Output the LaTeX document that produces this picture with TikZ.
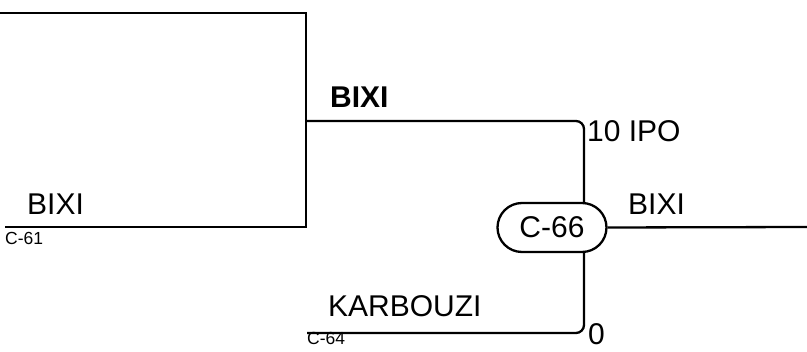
\documentclass[tikz,border=0pt]{standalone}
\usepackage{fontspec}
\setmainfont{Liberation Sans}
\usetikzlibrary{shapes.misc}
\begin{document}
\begin{tikzpicture}[x=1pt,y=-1pt,
  wire/.style={line width=2.3pt,line cap=butt,line join=miter},
  lbl/.style={anchor=base west,inner sep=0pt,font=\fontsize{30}{34}\selectfont},
  tag/.style={anchor=base west,inner sep=0pt,font=\fontsize{17.5}{20}\selectfont},
  junc/.style={rounded rectangle,draw,line width=2.3pt,minimum width=109pt,minimum height=49pt,inner sep=0pt,font=\fontsize{30}{34}\selectfont}]
\useasboundingbox (0,0) rectangle (807,352);
\coordinate (tl) at (0,13);
\coordinate (tr) at (306,13);
\coordinate (ml) at (5,227);
\coordinate (mr) at (306,227);
\coordinate (jx) at (306,121);
\coordinate (bl) at (307,333);
\coordinate (re) at (807,227);
\node[junc] (c66) at (552,227.5) {C-66};
\draw[wire] (tl) -- (tr) -- (mr) -- (ml);
\draw[wire,rounded corners=8pt] (jx) -- (584,121) -- (584,203);
\draw[wire,rounded corners=8pt] (bl) -- (584,333) -- (584,252);
\draw[wire] (c66.east) -- (re);
\node[lbl] (b1) at (27,215) {BIXI};
\node[tag] (c61) at (5,245) {C-61};
\node[lbl,font=\fontsize{30}{34}\selectfont\bfseries] (b2) at (330,108) {BIXI};
\node[lbl] (ipo) at (587,142) {10 IPO};
\node[lbl] (b3) at (628,215) {BIXI};
\node[lbl] (kar) at (328,317) {KARBOUZI};
\node[lbl] (zero) at (588,345) {0};
\node[tag] (c64) at (307,345) {C-64};
\end{tikzpicture}
\end{document}
